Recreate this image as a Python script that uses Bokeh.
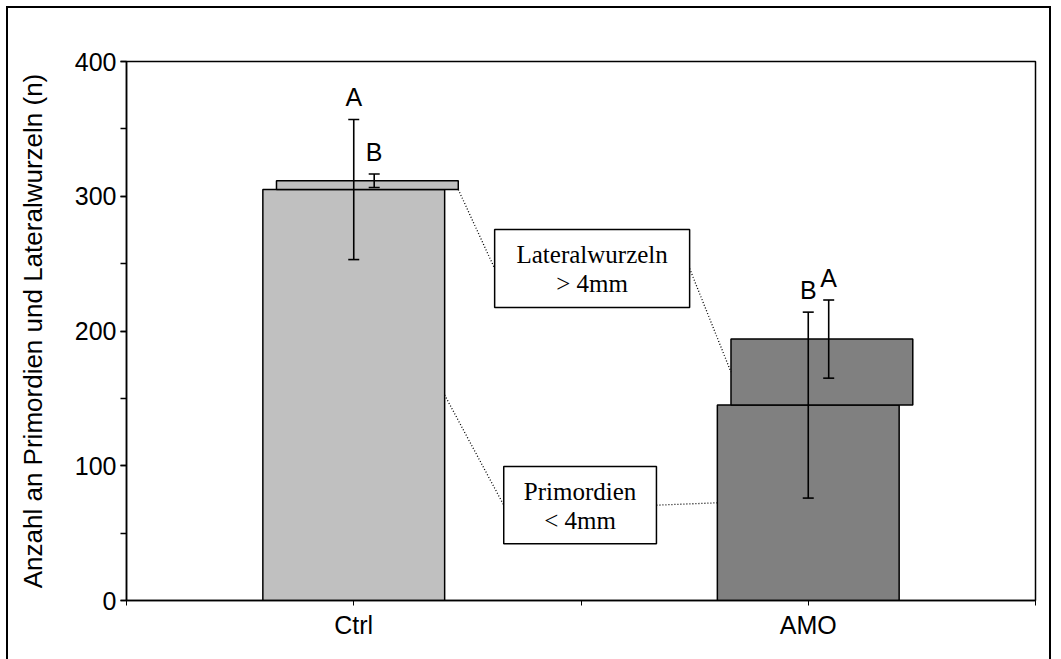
from bokeh.plotting import figure
from bokeh.models import (Range1d, FixedTicker, SingleIntervalTicker, Whisker,
                          TeeHead, ColumnDataSource)
from bokeh.core.properties import value
from bokeh.embed import file_html
from bokeh.resources import INLINE

# --- data -------------------------------------------------------------
categories = ["Ctrl", "AMO"]
primordien = [305, 145]            # Primordien < 4mm (lower segment)
lateralwurzeln = [6.5, 49]         # Lateralwurzeln > 4mm (upper segment)
primordien_err = [52, 69]
lateralwurzeln_err = [5, 29]
primordien_letters = ["A", "B"]
lateral_letters = ["B", "A"]
bar_colors = ["#C0C0C0", "#808080"]
box_texts = [["Lateralwurzeln", "> 4mm"], ["Primordien", "< 4mm"]]

# --- geometry ---------------------------------------------------------
centers = [i + 0.5 for i in range(len(categories))]
bar_w = 0.40
lat_shift = 0.03          # upper segment drawn slightly to the right
lat_err_shift = 0.045
lat_x = [c + lat_shift for c in centers]
totals = [p + l for p, l in zip(primordien, lateralwurzeln)]

SANS = value("Liberation Sans")
SERIF = value("Liberation Serif")

p = figure(width=1045, height=660, x_range=Range1d(0, 2), y_range=Range1d(0, 400),
           output_backend="svg", toolbar_location=None,
           min_border_left=118, min_border_right=18, min_border_top=53,
           min_border_bottom=68,
           styles={"margin-left": "6px", "margin-top": "6px",
                   "border": "2px solid black"})
p.xgrid.visible = False
p.ygrid.visible = False
p.outline_line_color = "black"
p.outline_line_width = 1.5
p.background_fill_color = "white"
p.border_fill_color = "white"

# bars
p.vbar(x=centers, bottom=0, top=primordien, width=bar_w, fill_color=bar_colors,
       line_color="black", line_width=1.5)
p.vbar(x=lat_x, bottom=primordien, top=totals, width=bar_w, fill_color=bar_colors,
       line_color="black", line_width=1.5)

# error bars
err_src = ColumnDataSource(dict(
    x=centers + [c + lat_err_shift for c in centers],
    upper=[v + e for v, e in zip(primordien, primordien_err)] +
          [v + e for v, e in zip(totals, lateralwurzeln_err)],
    lower=[v - e for v, e in zip(primordien, primordien_err)] +
          [v - e for v, e in zip(totals, lateralwurzeln_err)],
    letter=primordien_letters + lateral_letters,
))
p.add_layout(Whisker(source=err_src, base="x", upper="upper", lower="lower",
                     line_color="black", line_width=1.6, level="overlay",
                     upper_head=TeeHead(size=11, line_width=1.6, line_color="black"),
                     lower_head=TeeHead(size=11, line_width=1.6, line_color="black")))
p.text(x="x", y="upper", text="letter", source=err_src, text_align="center",
       text_baseline="alphabetic", y_offset=-22, text_font=SANS,
       text_font_size="25px", text_color="black")

# callout boxes
box_left = [0.810, 0.830]
box_right = [1.239, 1.166]
box_bottom = [217.4, 42.1]
box_top = [275.3, 99.4]
box_mid_x = [(a + b) / 2 for a, b in zip(box_left, box_right)]
box_mid_y = [(a + b) / 2 for a, b in zip(box_bottom, box_top)]
p.quad(left=box_left, right=box_right, bottom=box_bottom, top=box_top,
       fill_color="white", line_color="black", line_width=1.5)
p.text(x=box_mid_x, y=box_mid_y, text=[t[0] for t in box_texts], y_offset=-14,
       text_align="center", text_baseline="alphabetic", text_font=SERIF,
       text_font_size="25px", text_color="black")
p.text(x=box_mid_x, y=box_mid_y, text=[t[1] for t in box_texts], y_offset=15,
       text_align="center", text_baseline="alphabetic", text_font=SERIF,
       text_font_size="25px", text_color="black")

# dotted leader lines from the boxes to the bar segments
lead_x0 = [lat_x[0] + bar_w / 2, box_right[0], centers[0] + bar_w / 2, box_right[1]]
lead_y0 = [primordien[0], box_mid_y[0], primordien[0] / 2, box_mid_y[1]]
lead_x1 = [box_left[0], lat_x[1] - bar_w / 2, box_left[1], centers[1] - bar_w / 2]
lead_y1 = [box_mid_y[0], primordien[1] + lateralwurzeln[1] / 2, box_mid_y[1],
           primordien[1] / 2]
p.segment(x0=lead_x0, y0=lead_y0, x1=lead_x1, y1=lead_y1, line_color="black",
          line_width=1.3, line_dash="1 2")

# axes
xa = p.xaxis[0]
xa.ticker = FixedTicker(ticks=centers, minor_ticks=[0, 1, 2])
xa.major_label_overrides = {c: n for c, n in zip(centers, categories)}
xa.major_label_text_font = "Liberation Sans"
xa.major_label_text_font_size = "25px"
xa.major_label_text_color = "black"
xa.major_label_standoff = 5
xa.major_tick_out = 5
xa.major_tick_in = 0
xa.minor_tick_out = 5
xa.minor_tick_in = 0
xa.axis_line_width = 1.5
xa.major_tick_line_width = 1
xa.minor_tick_line_width = 1

ya = p.yaxis[0]
ya.ticker = SingleIntervalTicker(interval=100, num_minor_ticks=2)
ya.major_label_text_font = "Liberation Sans"
ya.major_label_text_font_size = "25px"
ya.major_label_text_color = "black"
ya.major_label_standoff = 4
ya.major_tick_out = 6
ya.major_tick_in = 0
ya.minor_tick_out = 6
ya.minor_tick_in = 0
ya.axis_line_width = 1.5
ya.major_tick_line_width = 1.5
ya.minor_tick_line_width = 1.5
ya.axis_label = "Anzahl an Primordien und Lateralwurzeln (n)"
ya.axis_label_text_font = "Liberation Sans"
ya.axis_label_text_font_size = "26px"
ya.axis_label_text_font_style = "normal"
ya.axis_label_text_color = "black"
ya.axis_label_standoff = 24

open("out.html", "w").write(file_html(p, INLINE))
